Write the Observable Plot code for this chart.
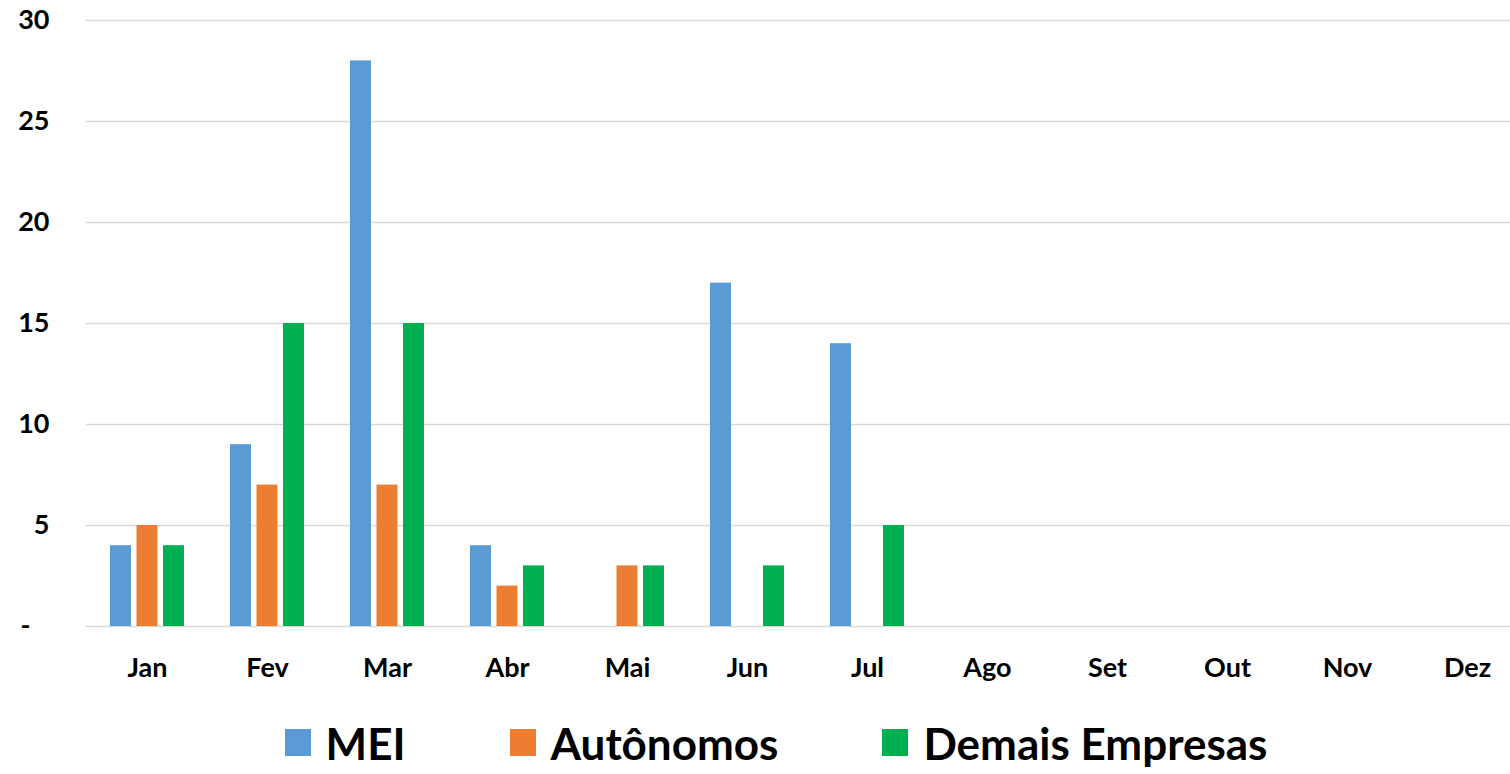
<!DOCTYPE html>
<html>
<head>
<meta charset="utf-8">
<script src="https://cdn.jsdelivr.net/npm/d3@7"></script>
<script src="https://cdn.jsdelivr.net/npm/@observablehq/plot@0.6"></script>
<style>
  html, body { margin: 0; padding: 0; background: #fff; overflow: hidden; }
  #wrap { width: 1510px; height: 700px; overflow: hidden; }
  #chart svg { max-width: none !important; }
  #legend { display: flex; justify-content: center; align-items: center; height: 63px; padding-top: 11px; padding-left: 42px;
    font-family: Lato, "Open Sans", sans-serif; font-weight: bold; font-size: 44px; color: #000; }
  .item { display: flex; align-items: center; margin: 0 52px; }
  .sw { width: 26px; height: 27px; margin-right: 15px; }
</style>
</head>
<body>
<div id="wrap"><div id="chart"></div></div>
<div id="legend"></div>
<script>
const months = ["Jan","Fev","Mar","Abr","Mai","Jun","Jul","Ago","Set","Out","Nov","Dez"];
const seriesNames = ["MEI","Autônomos","Demais Empresas"];
const seriesColors = ["#5B9BD5","#ED7D31","#00B050"];
const mei =       [4, 9, 28, 4, 0, 17, 14, 0, 0, 0, 0, 0];
const autonomos = [5, 7, 7, 2, 3, 0, 0, 0, 0, 0, 0, 0];
const demais =    [4, 15, 15, 3, 3, 3, 5, 0, 0, 0, 0, 0];
const yTicks = [0, 5, 10, 15, 20, 25, 30];

const seriesValues = [mei, autonomos, demais];
const seriesOffsets = [-26.5, 0, 26.5];
const barInset = 49.5;

const barMarks = seriesNames.map((s, j) => {
  const rows = months.map((m, i) => ({month: m, series: s, value: seriesValues[j][i]})).filter(d => d.value > 0);
  return Plot.barY(rows, {x: "month", y: "value", fill: seriesColors[j], dx: seriesOffsets[j], insetLeft: barInset, insetRight: barInset});
});

const chart = Plot.plot({
  width: 1527,
  height: 700,
  marginLeft: 86,
  marginRight: 0,
  marginTop: 20,
  marginBottom: 74,
  style: {fontFamily: "Lato, 'Open Sans', sans-serif", fontWeight: "bold", fontSize: "27px", color: "#000", background: "#fff", maxWidth: "none"},
  x: {domain: months, padding: 0, label: null},
  y: {domain: [0, 30], label: null},
  marks: [
    Plot.ruleY(yTicks, {stroke: "#d9d9d9", strokeWidth: 1.7}),
    ...barMarks,
    Plot.axisY(yTicks, {tickSize: 0, tickPadding: 37, tickFormat: d => d === 0 ? "-\u2007\u2009" : String(d), fontSize: 27, fontWeight: "bold", fill: "#000"}),
    Plot.axisX({tickSize: 0, tickPadding: 31, fontSize: 27, fontWeight: "bold", fill: "#000", label: null})
  ]
});
chart.style.maxWidth = "none";
document.getElementById("chart").appendChild(chart);

const legend = document.getElementById("legend");
seriesNames.forEach((s, j) => {
  const it = document.createElement("div");
  it.className = "item";
  const sw = document.createElement("div");
  sw.className = "sw";
  sw.style.background = seriesColors[j];
  const t = document.createElement("span");
  t.textContent = s;
  it.appendChild(sw); it.appendChild(t);
  legend.appendChild(it);
});
</script>
</body>
</html>
